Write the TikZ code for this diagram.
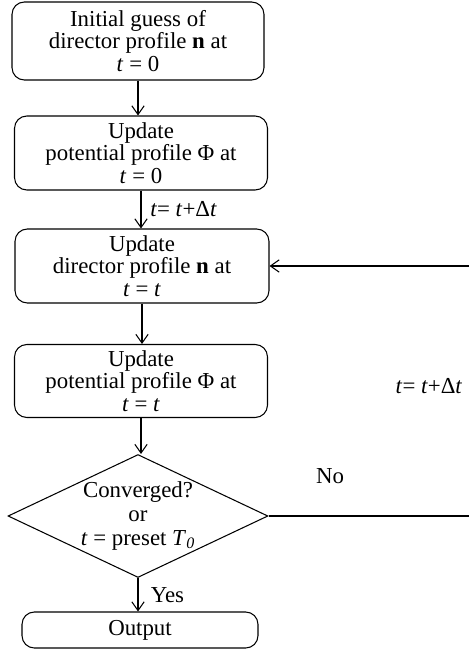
\documentclass[tikz,border=0pt]{standalone}
\usepackage{fontspec}
\setmainfont{Liberation Serif}
\usetikzlibrary{arrows.meta,shapes.geometric}

\begin{document}
\begin{tikzpicture}[x=0.02cm, y=-0.02cm, line width=0.6pt, >={Straight Barb[length=5pt,width=7pt]},
    stepbox/.style={draw, rounded corners=7pt, align=center, inner sep=1pt,
        font=\fontsize{13}{12.8}\selectfont},
    testbox/.style={draw, diamond, shape aspect=2.1, align=center, inner sep=0pt,
        font=\fontsize{13}{13.6}\selectfont},
    tag/.style={font=\fontsize{13}{13}\selectfont, inner sep=1pt}]
    \useasboundingbox (0,0) rectangle (469,666);

    % steps of the loop
    \node[stepbox, minimum width=5.04cm, minimum height=1.56cm] (init) at (138,41)
        {Initial guess of\\director profile \textbf{n} at\\\textit{t} = 0};
    \node[stepbox, minimum width=5.06cm, minimum height=1.48cm] (phizero) at (141,153)
        {Update\\potential profile Φ at\\\textit{t} = 0};
    \node[stepbox, minimum width=5.08cm, minimum height=1.48cm] (dirt) at (142,266)
        {Update\\director profile \textbf{n} at\\\textit{t} = \textit{t}};
    \node[stepbox, minimum width=5.06cm, minimum height=1.46cm] (phit) at (141,381)
        {Update\\potential profile Φ at\\\textit{t} = \textit{t}};

    % convergence test
    \node[testbox, minimum width=5.2cm, minimum height=2.46cm] (conv) at (138,516)
        {Converged?\\or\\\textit{t} = preset \textit{T}\textsubscript{\textit{0}}};

    % result
    \node[stepbox, minimum width=4.72cm, minimum height=0.72cm] (out) at (140,630) {Output};

    % arrows down
    \draw[->] (init.south) -- (init.south |- phizero.north);
    \draw[->] (phizero.south) -- (phizero.south |- dirt.north)
        node[tag, midway, right=4pt] {\textit{t}= \textit{t}+Δ\textit{t}};
    \draw[->] (dirt.south) -- (dirt.south |- phit.north);
    \draw[->] (phit.south) -- (phit.south |- conv.north);
    \draw[->] (conv.south) -- (conv.south |- out.north)
        node[tag, midway, right=6pt] {Yes};

    % way back
    \coordinate (noend) at (469,516);
    \coordinate (back) at (469,266);
    \draw (conv.east) -- (noend);
    \node[tag] (nolabel) at (330,476) {No};
    \draw[->] (back) -- (dirt.east);
    \node[tag] (steplabel) at (429,386) {\textit{t}= \textit{t}+Δ\textit{t}};
\end{tikzpicture}
\end{document}
